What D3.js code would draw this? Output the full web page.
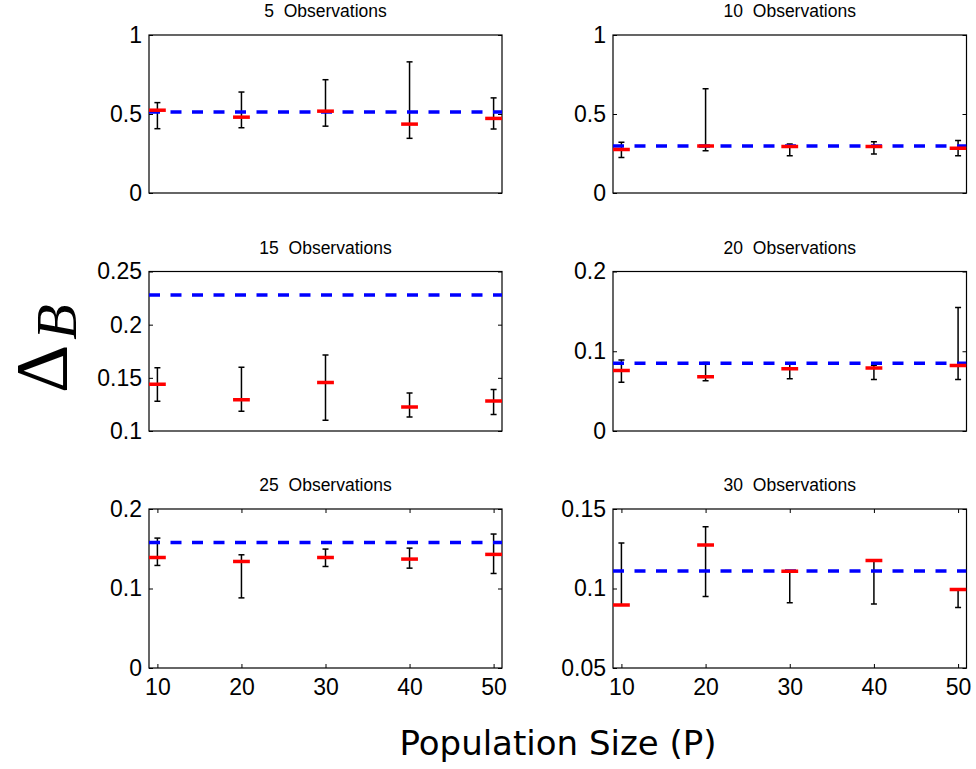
<!DOCTYPE html>
<html>
<head>
<meta charset="utf-8">
<script src="https://cdn.jsdelivr.net/npm/d3@7"></script>
<style>
  html, body { margin: 0; padding: 0; background: #fff; }
  svg { display: block; }
</style>
</head>
<body>
<script>
// ---------- data ----------
const populationSizes = [10, 20, 30, 40, 50];
const observationCounts = [5, 10, 15, 20, 25, 30];
const trueValues = [0.512, 0.298, 0.228, 0.085, 0.158, 0.111];

const obs5Mean  = [0.524, 0.480, 0.518, 0.436, 0.472];
const obs5Low   = [0.407, 0.413, 0.423, 0.346, 0.405];
const obs5High  = [0.572, 0.639, 0.717, 0.830, 0.602];

const obs10Mean = [0.275, 0.298, 0.294, 0.294, 0.283];
const obs10Low  = [0.224, 0.268, 0.235, 0.247, 0.235];
const obs10High = [0.321, 0.660, 0.310, 0.325, 0.333];

const obs15Mean = [0.144, 0.1295, 0.1455, 0.1226, 0.1282];
const obs15Low  = [0.128, 0.1185, 0.110, 0.1132, 0.1154];
const obs15High = [0.1596, 0.160, 0.1715, 0.1358, 0.139];

const obs20Mean = [0.0758, 0.068, 0.078, 0.079, 0.082];
const obs20Low  = [0.061, 0.0629, 0.0654, 0.0646, 0.0646];
const obs20High = [0.089, 0.086, 0.0854, 0.0825, 0.155];

const obs25Mean = [0.139, 0.134, 0.139, 0.137, 0.1429];
const obs25Low  = [0.129, 0.0882, 0.1277, 0.1256, 0.1189];
const obs25High = [0.1634, 0.1424, 0.1496, 0.1508, 0.1685];

const obs30Mean = [0.0897, 0.1273, 0.1109, 0.1176, 0.0994];
const obs30Low  = [0.0897, 0.0950, 0.0910, 0.0903, 0.088];
const obs30High = [0.1286, 0.1389, 0.1109, 0.1176, 0.0994];

const yDomains = [[0, 1], [0, 1], [0.1, 0.25], [0, 0.2], [0, 0.2], [0.05, 0.15]];
const yTickValues = [[0, 0.5, 1], [0, 0.5, 1], [0.1, 0.15, 0.2, 0.25], [0, 0.1, 0.2], [0, 0.1, 0.2], [0.05, 0.1, 0.15]];
const xTickValues = [10, 20, 30, 40, 50];

const titleSuffix = "  Observations";
const xLabelText = "Population Size (P)";

const panelMeans = [obs5Mean, obs10Mean, obs15Mean, obs20Mean, obs25Mean, obs30Mean];
const panelLows  = [obs5Low, obs10Low, obs15Low, obs20Low, obs25Low, obs30Low];
const panelHighs = [obs5High, obs10High, obs15High, obs20High, obs25High, obs30High];

// ---------- layout ----------
const W = 976, H = 769;
const colX = [[149, 502], [613, 966.5]];
const rowY = [[35, 193], [271.5, 431], [509, 668]];
const tickLen = 4;

const svg = d3.select("body").append("svg")
  .attr("width", W).attr("height", H)
  .attr("viewBox", `0 0 ${W} ${H}`);

const defs = svg.append("defs");

observationCounts.forEach((obs, i) => {
  const col = i % 2, row = Math.floor(i / 2);
  const [x0, x1] = colX[col];
  const [y0, y1] = rowY[row];
  const x = d3.scaleLinear().domain([9, 51]).range([x0, x1]);
  const y = d3.scaleLinear().domain(yDomains[i]).range([y1, y0]);

  const g = svg.append("g");
  const clipId = "clip" + i;
  defs.append("clipPath").attr("id", clipId)
    .append("rect").attr("x", x0).attr("y", y0).attr("width", x1 - x0).attr("height", y1 - y0);

  // title
  g.append("text")
    .attr("x", (x0 + x1) / 2).attr("y", y0 - 18)
    .attr("text-anchor", "middle")
    .attr("font-family", "Liberation Sans, Arial, sans-serif")
    .attr("font-size", 17.5)
    .attr("fill", "#000")
    .style("white-space", "pre")
    .text(obs + titleSuffix);

  // axes (ticks inward)
  const fmt = v => String(+v.toFixed(4));
  const axes = [];
  axes.push(g.append("g").attr("class", "yl").attr("transform", `translate(${x0},0)`)
    .call(d3.axisLeft(y).tickValues(yTickValues[i]).tickSize(-tickLen).tickPadding(7).tickFormat(fmt)));
  axes.push(g.append("g").attr("transform", `translate(${x1},0)`)
    .call(d3.axisRight(y).tickValues(yTickValues[i]).tickSize(-tickLen).tickFormat("")));
  if (row === 2) {
    axes.push(g.append("g").attr("class", "xb").attr("transform", `translate(0,${y1})`)
      .call(d3.axisBottom(x).tickValues(xTickValues).tickSize(-tickLen).tickPadding(11)
        .tickFormat(d3.format("d"))));
    axes.push(g.append("g").attr("transform", `translate(0,${y0})`)
      .call(d3.axisTop(x).tickValues(xTickValues).tickSize(-tickLen).tickFormat("")));
  }
  axes.forEach(a => {
    a.select(".domain").remove();
    a.selectAll(".tick line").attr("stroke", "#000").attr("stroke-width", 1);
    a.selectAll("text")
      .attr("font-family", "Liberation Sans, Arial, sans-serif")
      .attr("font-size", 23)
      .attr("fill", "#000");
  });
  g.selectAll(".xb text").attr("dy", "0.71em");

  // frame
  g.append("rect")
    .attr("x", x0).attr("y", y0).attr("width", x1 - x0).attr("height", y1 - y0)
    .attr("fill", "none").attr("stroke", "#000").attr("stroke-width", 1.2);

  const plot = g.append("g").attr("clip-path", `url(#${clipId})`);
  const pts = populationSizes.map((p, k) => ({
    p, mean: panelMeans[i][k], lo: panelLows[i][k], hi: panelHighs[i][k]
  }));

  // error bars
  const eb = plot.selectAll("g.eb").data(pts).enter().append("g").attr("class", "eb");
  eb.append("line")
    .attr("x1", d => x(d.p)).attr("x2", d => x(d.p))
    .attr("y1", d => y(d.lo)).attr("y2", d => y(d.hi))
    .attr("stroke", "#000").attr("stroke-width", 1.5);
  eb.append("line")
    .attr("x1", d => x(d.p) - 3).attr("x2", d => x(d.p) + 3)
    .attr("y1", d => y(d.lo)).attr("y2", d => y(d.lo))
    .attr("stroke", "#000").attr("stroke-width", 1.5);
  eb.append("line")
    .attr("x1", d => x(d.p) - 3).attr("x2", d => x(d.p) + 3)
    .attr("y1", d => y(d.hi)).attr("y2", d => y(d.hi))
    .attr("stroke", "#000").attr("stroke-width", 1.5);

  // true value dashed line
  plot.append("line")
    .attr("x1", x(9)).attr("x2", x(51))
    .attr("y1", y(trueValues[i])).attr("y2", y(trueValues[i]))
    .attr("stroke", "#0000ff").attr("stroke-width", 3.5)
    .attr("stroke-dasharray", "11,10.5");

  // mean markers
  plot.selectAll("line.mean").data(pts).enter().append("line").attr("class", "mean")
    .attr("x1", d => x(d.p - 1)).attr("x2", d => x(d.p + 1))
    .attr("y1", d => y(d.mean)).attr("y2", d => y(d.mean))
    .attr("stroke", "#ff0000").attr("stroke-width", 3.5);
});

// y label: Delta_B
const yl = svg.append("text")
  .attr("transform", "translate(67,393) rotate(-90)")
  .attr("font-family", "Liberation Serif, Times New Roman, serif")
  .attr("fill", "#000");
yl.append("tspan").attr("font-size", 75).text("Δ");
yl.append("tspan").attr("font-size", 58).attr("font-style", "italic").attr("dy", 9).attr("dx", 5).text("B");

// x label
svg.append("text")
  .attr("x", 558).attr("y", 755)
  .attr("text-anchor", "middle")
  .attr("font-family", "DejaVu Sans, sans-serif")
  .attr("font-size", 34)
  .attr("fill", "#000")
  .text(xLabelText);
</script>
</body>
</html>
